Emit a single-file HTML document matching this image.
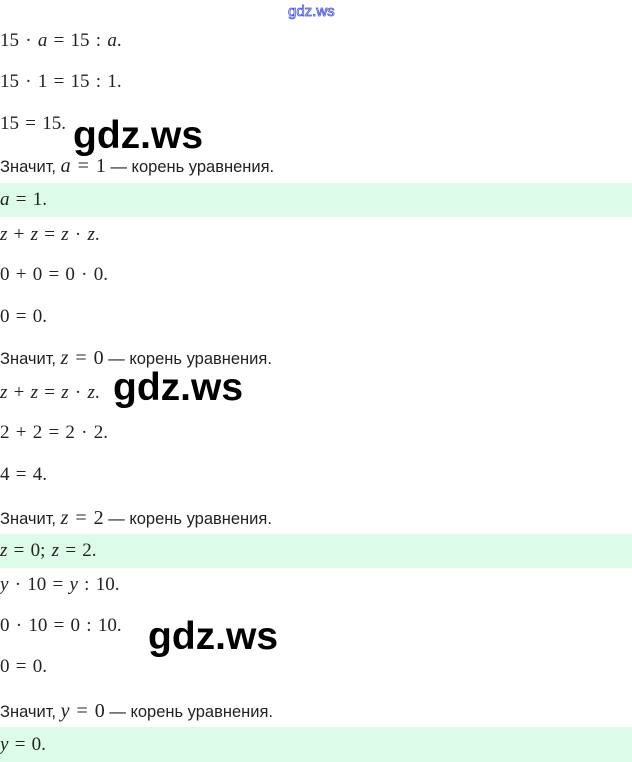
<!DOCTYPE html>
<html><head><meta charset="utf-8"><style>
html,body{margin:0;padding:0;width:632px;height:762px;background:#fff;overflow:hidden;position:relative}
.g{position:absolute;left:0;width:632px;height:34px;background:#dcfbe8}
.m{position:absolute;left:0;font-family:"Liberation Serif",serif;font-size:19px;color:#222;white-space:nowrap;line-height:20px;word-spacing:1.5px}
.m i{font-style:italic}
.t{position:absolute;left:0;font-family:"Liberation Sans","DejaVu Sans",sans-serif;font-size:16.5px;color:#222;white-space:nowrap;line-height:20px}
.t .s{font-family:"Liberation Serif",serif;font-size:20px;word-spacing:2px}
.w{position:absolute;font-family:"Liberation Sans",sans-serif;font-size:39px;font-weight:bold;color:#000;line-height:40px}
.top{position:absolute;left:288px;top:3px;font-family:"Liberation Sans",sans-serif;font-size:15px;color:#fff;-webkit-text-stroke:0.8px #4455dd;line-height:18px}
</style></head><body>
<div class="g" style="top:183px"></div>
<div class="g" style="top:534px"></div>
<div class="g" style="top:727px;height:35px"></div>
<div class="top">gdz.ws</div>
<div class="m" style="top:31px">15 · <i>a</i> = 15 : <i>a</i>.</div>
<div class="m" style="top:72px">15 · 1 = 15 : 1.</div>
<div class="m" style="top:114px">15 = 15.</div>
<div class="t" style="top:156px">Значит, <span class="s"><i>a</i> = 1</span> — корень уравнения.</div>
<div class="m" style="top:190px"><i>a</i> = 1.</div>
<div class="m" style="top:225px"><i>z</i> + <i>z</i> = <i>z</i> · <i>z</i>.</div>
<div class="m" style="top:265px">0 + 0 = 0 · 0.</div>
<div class="m" style="top:307px">0 = 0.</div>
<div class="t" style="top:348px">Значит, <span class="s"><i>z</i> = 0</span> — корень уравнения.</div>
<div class="m" style="top:383px"><i>z</i> + <i>z</i> = <i>z</i> · <i>z</i>.</div>
<div class="m" style="top:423px">2 + 2 = 2 · 2.</div>
<div class="m" style="top:465px">4 = 4.</div>
<div class="t" style="top:508px">Значит, <span class="s"><i>z</i> = 2</span> — корень уравнения.</div>
<div class="m" style="top:541px"><i>z</i> = 0; <i>z</i> = 2.</div>
<div class="m" style="top:575px"><i>y</i> · 10 = <i>y</i> : 10.</div>
<div class="m" style="top:616px">0 · 10 = 0 : 10.</div>
<div class="m" style="top:657px">0 = 0.</div>
<div class="t" style="top:701px">Значит, <span class="s"><i>y</i> = 0</span> — корень уравнения.</div>
<div class="m" style="top:735px"><i>y</i> = 0.</div>
<div class="w" style="left:73px;top:116px">gdz.ws</div>
<div class="w" style="left:113px;top:368px">gdz.ws</div>
<div class="w" style="left:148px;top:617px">gdz.ws</div>
</body></html>
